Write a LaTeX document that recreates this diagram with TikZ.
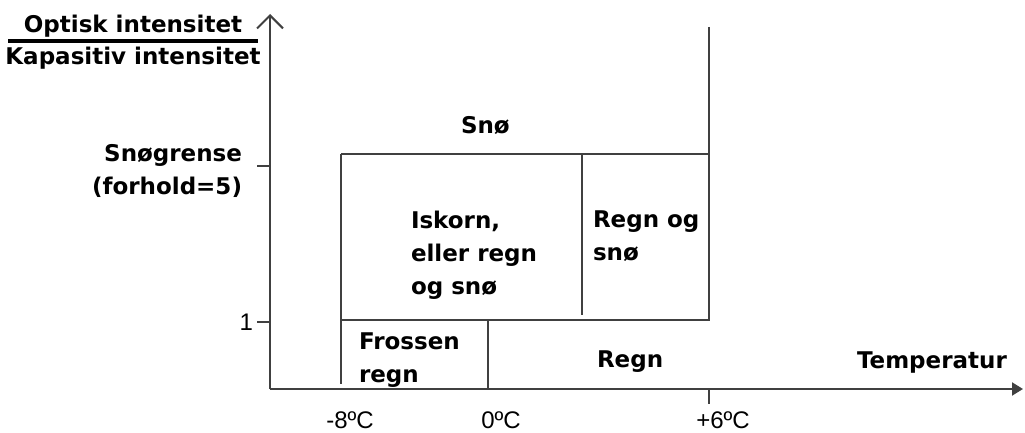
\documentclass[tikz,border=0pt]{standalone}
\usepackage{fontspec}
\setmainfont{Liberation Sans}
\newfontfamily\boldlab{DejaVu Sans}
\usetikzlibrary{arrows.meta}
\definecolor{linegray}{RGB}{64,64,64}
\tikzset{
  lab/.style={inner sep=0pt, outer sep=0pt, font=\boldlab\bfseries\fontsize{23}{33}\selectfont, text=black},
  numlab/.style={inner sep=0pt, outer sep=0pt, font=\fontsize{24}{30}\selectfont, text=black},
  axisline/.style={draw=linegray, line width=2pt},
  boxline/.style={draw=linegray, line width=2pt},
}
\begin{document}
\begin{tikzpicture}[x=1pt, y=-1pt]
\useasboundingbox (0,0) rectangle (1025,433);
% coordinates
\coordinate (O) at (270,389);
\coordinate (ytop) at (270,14);
\coordinate (xend) at (1023,389);
\coordinate (t5a) at (257,166); \coordinate (t5b) at (270,166);
\coordinate (t1a) at (257,322); \coordinate (t1b) at (270,322);
\coordinate (t6a) at (709,389); \coordinate (t6b) at (709,404);
\coordinate (r6top) at (709,27);
\coordinate (bTL) at (341,154); \coordinate (bTR) at (709,154);
\coordinate (bBL) at (341,320); \coordinate (bBR) at (709,320);
\coordinate (m8bot) at (341,384);
\coordinate (divT) at (582,154); \coordinate (divB) at (582,315);
\coordinate (zT) at (488,320); \coordinate (zB) at (488,389);
\coordinate (fracL) at (8,41); \coordinate (fracR) at (258,41);
% axes
\draw[axisline, -{Straight Barb[length=13pt,width=26pt,line width=2pt]}] (O) -- (ytop);
\draw[axisline, -{Triangle[length=11pt,width=13pt]}] (O) -- (xend);
\draw[axisline] (t5a) -- (t5b);
\draw[axisline] (t1a) -- (t1b);
\draw[axisline] (t6a) -- (t6b);
% regions
\draw[boxline] (r6top) -- (bBR) -- (bBL);
\draw[boxline] (bTL) -- (bTR);
\draw[boxline] (bTL) -- (m8bot);
\draw[boxline] (divT) -- (divB);
\draw[boxline] (zT) -- (zB);
% fraction bar
\draw[black, line width=3.5pt] (fracL) -- (fracR);
% labels
\node[lab, anchor=base] (opt) at (133,33) {Optisk intensitet};
\node[lab, anchor=base] (kap) at (133,65) {Kapasitiv intensitet};
\node[lab, anchor=north east, align=right] (sgr) at (242,144) {Snøgrense\\(forhold=5)};
\node[numlab, anchor=base east] (one) at (253,330) {1};
\node[lab, anchor=base west] (sno) at (461,134) {Snø};
\node[lab, anchor=north west, align=left] (isk) at (411,211) {Iskorn,\\eller regn\\og snø};
\node[lab, anchor=north west, align=left] (rog) at (593,211) {Regn og\\snø};
\node[lab, anchor=north west, align=left] (fro) at (359,333) {Frossen\\regn};
\node[lab, anchor=base west] (regn) at (597,367) {Regn};
\node[lab, anchor=base west] (temp) at (857,368) {Temperatur};
\node[numlab, anchor=base] (m8) at (350,428) {-8ºC};
\node[numlab, anchor=base] (z0) at (501,428) {0ºC};
\node[numlab, anchor=base] (p6) at (723,428) {+6ºC};
\end{tikzpicture}
\end{document}
